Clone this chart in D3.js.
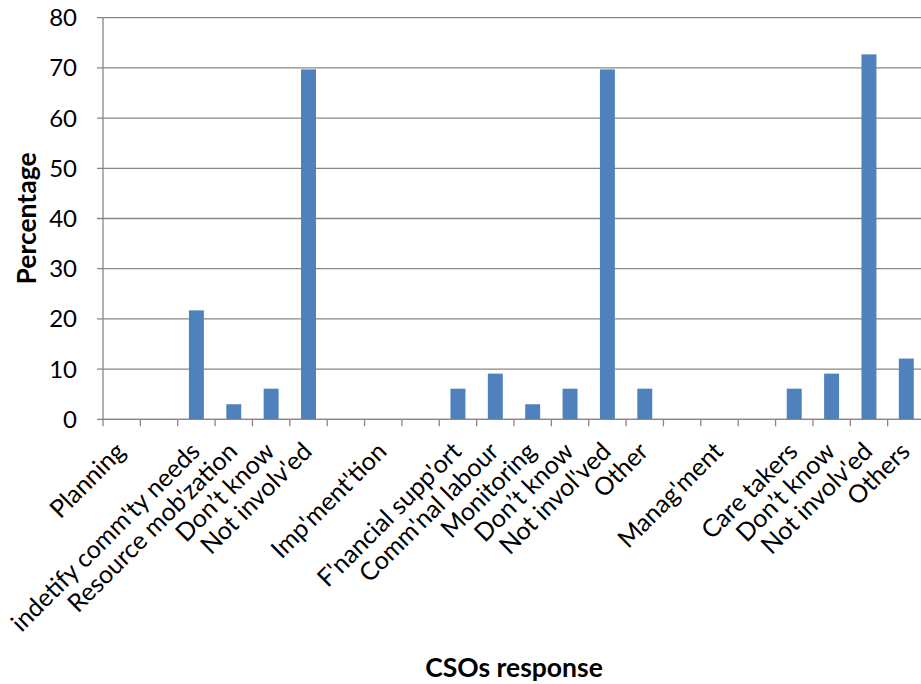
<!DOCTYPE html>
<html>
<head>
<meta charset="utf-8">
<script src="https://cdn.jsdelivr.net/npm/d3@7"></script>
<style>
  html, body { margin: 0; padding: 0; background: #fff; }
  svg { display: block; }
  text { font-family: Lato, "Open Sans", sans-serif; fill: #000; }
</style>
</head>
<body>
<svg id="chart" width="921" height="684"></svg>
<script>
// Category labels along the x axis (blank entries are spacer slots)
const categories = [
  "Planning", " ", "indetify comm'ty needs", "Resource mob'zation", "Don\u2019t know", "Not involv'ed",
  "  ", "Imp'ment'tion", "   ", "F'nancial supp'ort", "Comm'nal labour", "Monitoring",
  "Don\u2019t know ", "Not invol'ved", "Other", "    ", "Manag'ment", "     ",
  "Care takers", "Don\u2019t know  ", "Not involv'ed ", "Others"
];
// Percentage of CSOs for each category (null = no bar)
const percentages = [
  null, null, 21.7, 3.0, 6.1, 69.7,
  null, null, null, 6.1, 9.1, 3.0,
  6.1, 69.7, 6.1, null, null, null,
  6.1, 9.1, 72.7, 12.1
];
const yTicks = [0, 10, 20, 30, 40, 50, 60, 70, 80];

const plot = { left: 103, right: 925, top: 17.7, bottom: 419.3 };

const svg = d3.select("#chart");

const x = d3.scaleBand()
  .domain(categories)
  .range([plot.left, plot.right])
  .paddingInner(0.6)
  .paddingOuter(0.3);

const xSlot = d3.scaleBand()
  .domain(categories)
  .range([plot.left, plot.right])
  .padding(0);

const y = d3.scaleLinear().domain([0, 80]).range([plot.bottom, plot.top]);

const grey = "#878787";

// horizontal gridlines
svg.append("g")
  .selectAll("line")
  .data(yTicks)
  .join("line")
  .attr("x1", plot.left - 6)
  .attr("x2", plot.right)
  .attr("y1", d => y(d))
  .attr("y2", d => y(d))
  .attr("stroke", grey)
  .attr("stroke-width", 1.3);

// y tick labels
svg.append("g")
  .selectAll("text")
  .data(yTicks)
  .join("text")
  .attr("x", plot.left - 26)
  .attr("y", d => y(d))
  .attr("dy", "0.35em")
  .attr("text-anchor", "end")
  .style("font-size", "24px")
  .text(d => d);

// bars
const bars = categories.map((c, i) => ({ c, v: percentages[i] })).filter(d => d.v != null);
svg.append("g")
  .selectAll("rect")
  .data(bars)
  .join("rect")
  .attr("x", d => x(d.c))
  .attr("width", x.bandwidth())
  .attr("y", d => y(d.v))
  .attr("height", d => y(0) - y(d.v))
  .attr("fill", "#4f81bd");

// axis lines
svg.append("line")
  .attr("x1", plot.left).attr("x2", plot.left)
  .attr("y1", plot.top).attr("y2", plot.bottom)
  .attr("stroke", grey).attr("stroke-width", 1.3);
svg.append("line")
  .attr("x1", plot.left).attr("x2", plot.right)
  .attr("y1", plot.bottom).attr("y2", plot.bottom)
  .attr("stroke", grey).attr("stroke-width", 1.3);

// x tick marks at slot boundaries
const boundaries = categories.map(c => xSlot(c)).concat([plot.right]);
svg.append("g")
  .selectAll("line")
  .data(boundaries)
  .join("line")
  .attr("x1", d => d).attr("x2", d => d)
  .attr("y1", plot.bottom).attr("y2", plot.bottom + 7)
  .attr("stroke", grey).attr("stroke-width", 1.3);

// rotated category labels
svg.append("g")
  .selectAll("text")
  .data(categories)
  .join("text")
  .attr("transform", d => `translate(${xSlot(d) + xSlot.bandwidth() / 2 + 5},453) rotate(-45)`)
  .attr("text-anchor", "end")
  .style("font-size", "25px")
  .text(d => d.trim());

// axis titles
svg.append("text")
  .attr("x", (plot.left + plot.right) / 2)
  .attr("y", 677)
  .attr("text-anchor", "middle")
  .style("font-size", "26.5px")
  .style("font-weight", "bold")
  .text("CSOs response");

svg.append("text")
  .attr("transform", `translate(36,${(plot.top + plot.bottom) / 2}) rotate(-90)`)
  .attr("text-anchor", "middle")
  .style("font-size", "26.5px")
  .style("font-weight", "bold")
  .text("Percentage");
</script>
</body>
</html>
